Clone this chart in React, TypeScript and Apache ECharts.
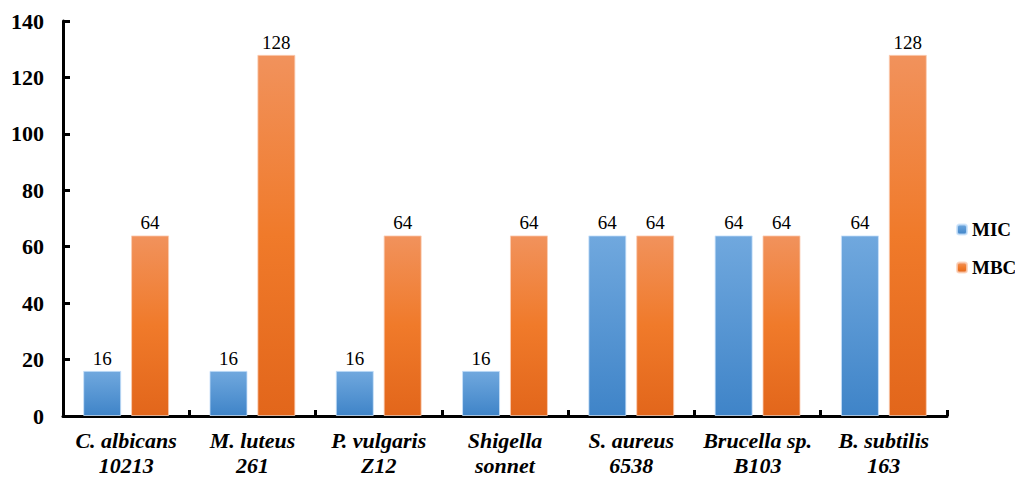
import React, { useEffect, useRef } from "react";
import * as echarts from "echarts";

const categories = [
  "C. albicans\n10213",
  "M. luteus\n261",
  "P. vulgaris\nZ12",
  "Shigella\nsonnet",
  "S. aureus\n6538",
  "Brucella sp.\nB103",
  "B. subtilis\n163",
];
const micValues = [16, 16, 16, 16, 64, 64, 64];
const mbcValues = [64, 128, 64, 64, 64, 64, 128];
const yTicks = { min: 0, max: 140, interval: 20 };

const serif = "Liberation Serif";

export default function App() {
  const ref = useRef<HTMLDivElement>(null);
  useEffect(() => {
    document.body.style.margin = "0";
    if (!ref.current) return;
    const chart = echarts.init(ref.current, null, { renderer: "svg" });
    const blue = new echarts.graphic.LinearGradient(0, 0, 0, 1, [
      { offset: 0, color: "#70a8de" },
      { offset: 1, color: "#3f84c8" },
    ]);
    const orange = new echarts.graphic.LinearGradient(0, 0, 0, 1, [
      { offset: 0, color: "#f1925c" },
      { offset: 0.5, color: "#f07a2a" },
      { offset: 1, color: "#e2661b" },
    ]);
    const label = {
      show: true,
      position: "top" as const,
      color: "#000",
      fontFamily: serif,
      fontSize: 19,
      distance: 3,
    };
    chart.setOption({
      animation: false,
      textStyle: { fontFamily: serif },
      grid: { left: 63, top: 21, right: 68, bottom: 63 },
      legend: {
        orient: "vertical",
        left: 951,
        top: 215,
        itemWidth: 10,
        itemHeight: 10,
        itemGap: 19,
        textStyle: { fontFamily: serif, fontWeight: "bold", fontSize: 19, color: "#000" },
        data: ["MIC", "MBC"],
      },
      xAxis: {
        type: "category",
        data: categories,
        axisLine: { lineStyle: { color: "#000", width: 3 } },
        axisTick: { show: true, inside: true, length: 6, lineStyle: { color: "#000", width: 3 } },
        axisLabel: {
          interval: 0,
          fontFamily: serif,
          fontWeight: "bold",
          fontStyle: "italic",
          fontSize: 22,
          color: "#000",
          lineHeight: 25,
          margin: 12,
        },
      },
      yAxis: {
        type: "value",
        min: yTicks.min,
        max: yTicks.max,
        interval: yTicks.interval,
        splitLine: { show: false },
        axisLine: { show: true, lineStyle: { color: "#000", width: 3 } },
        axisTick: { show: true, inside: true, length: 7, lineStyle: { color: "#000", width: 3 } },
        axisLabel: {
          fontFamily: serif,
          fontWeight: "bold",
          fontSize: 22,
          color: "#000",
          margin: 19,
        },
      },
      series: [
        {
          name: "MIC",
          type: "bar",
          data: micValues,
          barWidth: 38,
          barGap: "26%",
          itemStyle: { color: blue, borderColor: "rgba(200,225,250,0.8)", borderWidth: 1 },
          label,
        },
        {
          name: "MBC",
          type: "bar",
          data: mbcValues,
          barWidth: 38,
          itemStyle: { color: orange, borderColor: "rgba(250,205,180,0.8)", borderWidth: 1 },
          label,
        },
      ],
    });
    return () => chart.dispose();
  }, []);
  return <div ref={ref} style={{ width: 1015, height: 479 }} />;
}
